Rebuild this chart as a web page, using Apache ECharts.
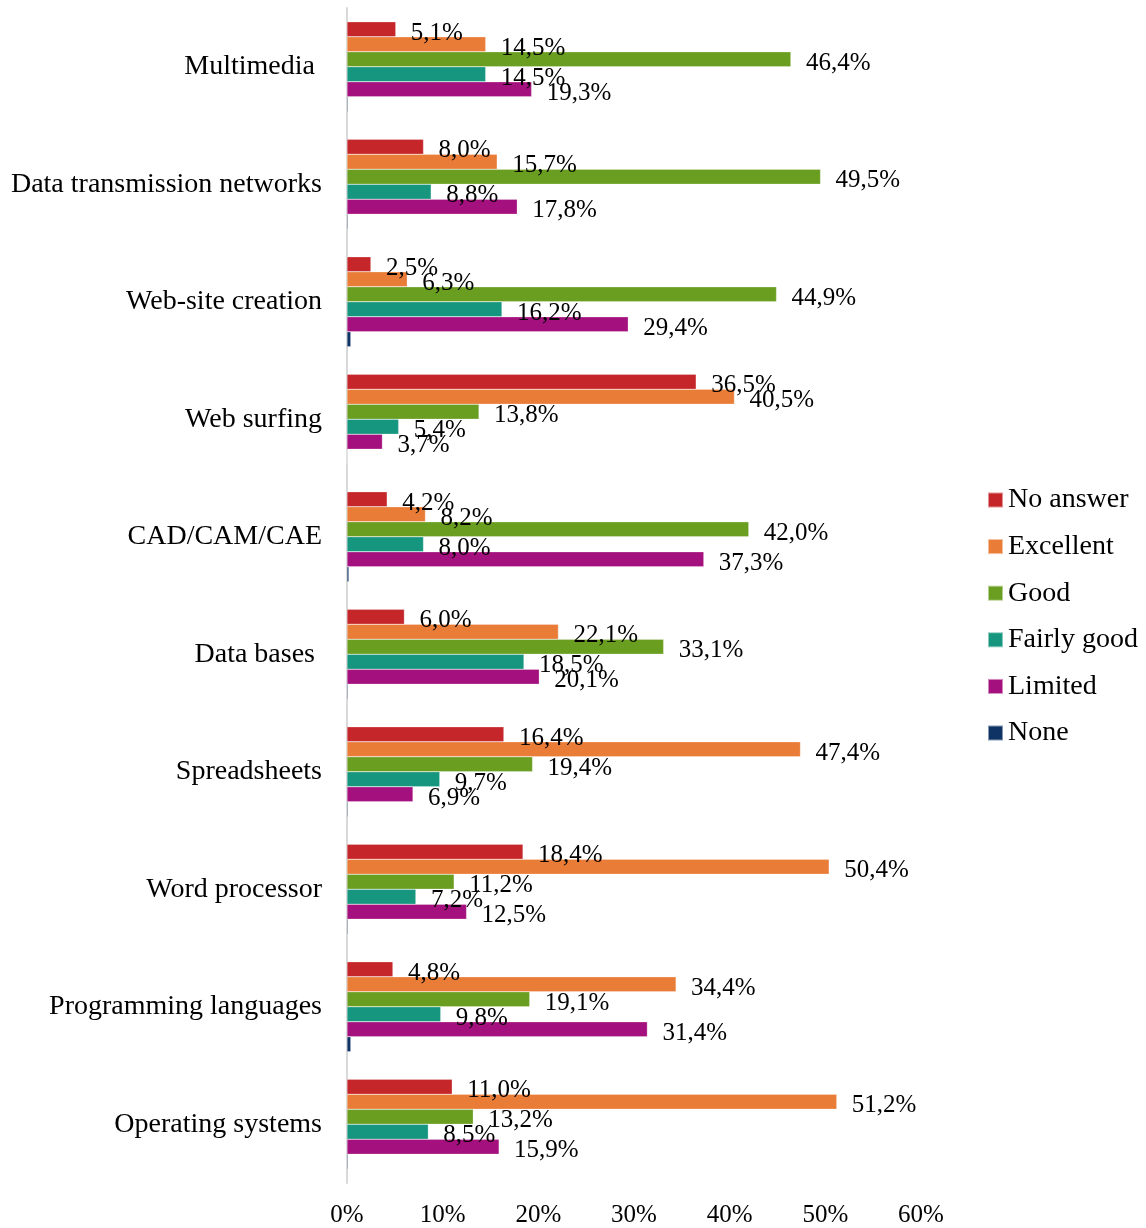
<!DOCTYPE html>
<html>
<head>
<meta charset="utf-8">
<script src="https://cdn.jsdelivr.net/npm/echarts@6/dist/echarts.min.js"></script>
<style>
  html, body { margin: 0; padding: 0; background: #fff; }
  #chart { width: 1146px; height: 1228px; }
</style>
</head>
<body>
<div id="chart"></div>
<script>
// Skill areas (top to bottom)
const categories = [
  'Multimedia ',
  'Data transmission networks',
  'Web-site creation',
  'Web surfing',
  'CAD/CAM/CAE',
  'Data bases ',
  'Spreadsheets',
  'Word processor',
  'Programming languages',
  'Operating systems'
];

// Share of respondents per self-assessed level (%)
const noAnswer   = [5.1, 8.0, 2.5, 36.5, 4.2, 6.0, 16.4, 18.4, 4.8, 11.0];
const excellent  = [14.5, 15.7, 6.3, 40.5, 8.2, 22.1, 47.4, 50.4, 34.4, 51.2];
const good       = [46.4, 49.5, 44.9, 13.8, 42.0, 33.1, 19.4, 11.2, 19.1, 13.2];
const fairlyGood = [14.5, 8.8, 16.2, 5.4, 8.0, 18.5, 9.7, 7.2, 9.8, 8.5];
const limited    = [19.3, 17.8, 29.4, 3.7, 37.3, 20.1, 6.9, 12.5, 31.4, 15.9];
const none       = [0.1, 0.1, 0.4, 0.0, 0.2, 0.1, 0.1, 0.1, 0.4, 0.1];

const xTicks = [0, 10, 20, 30, 40, 50, 60];

const seriesDefs = [
  { name: 'No answer',   data: noAnswer,   color: '#C5262A', label: true },
  { name: 'Excellent',   data: excellent,  color: '#E97C37', label: true },
  { name: 'Good',        data: good,       color: '#6A9E20', label: true },
  { name: 'Fairly good', data: fairlyGood, color: '#16967E', label: true },
  { name: 'Limited',     data: limited,    color: '#A4117E', label: true },
  { name: 'None',        data: none,       color: '#0E3364', label: false }
];

const FONT = '"Liberation Serif", "Times New Roman", serif';
const fmt = v => v.toFixed(1).replace('.', ',') + '%';

const chart = echarts.init(document.getElementById('chart'), null, { renderer: 'canvas' });

chart.setOption({
  animation: false,
  backgroundColor: '#ffffff',
  textStyle: { fontFamily: FONT },
  grid: { left: 347, right: 225, top: 8, bottom: 44, containLabel: false },
  legend: {
    orient: 'vertical',
    left: 982,
    top: 481,
    icon: 'rect',
    itemWidth: 15,
    itemHeight: 15,
    itemGap: 18.6,
    textStyle: { fontFamily: FONT, fontSize: 28, color: '#000', lineHeight: 28 },
    data: seriesDefs.map(s => s.name)
  },
  xAxis: {
    type: 'value',
    min: xTicks[0],
    max: xTicks[xTicks.length - 1],
    interval: 10,
    axisLine: { show: false },
    axisTick: { show: false },
    splitLine: { show: false },
    axisLabel: {
      fontFamily: FONT,
      fontSize: 25,
      color: '#000',
      margin: 20,
      formatter: v => v + '%'
    }
  },
  yAxis: {
    type: 'category',
    inverse: true,
    data: categories,
    axisLine: { show: true, lineStyle: { color: '#D9D9D9', width: 2 } },
    axisTick: { show: false },
    splitLine: { show: false },
    axisLabel: {
      fontFamily: FONT,
      fontSize: 28,
      color: '#000',
      margin: 25,
      lineHeight: 34,
      verticalAlign: 'middle',
      padding: [6, 0, 0, 0]
    }
  },
  series: seriesDefs.map(s => ({
    name: s.name,
    type: 'bar',
    data: s.data,
    barWidth: 15,
    barGap: '0%',
    itemStyle: { color: s.color, borderColor: 'rgba(255,255,255,0.5)', borderWidth: 0.5 },
    label: {
      show: s.label,
      position: 'right',
      distance: 15,
      offset: [0, 4],
      fontFamily: FONT,
      fontSize: 25,
      color: '#000',
      formatter: p => fmt(p.value)
    }
  }))
});
</script>
</body>
</html>
